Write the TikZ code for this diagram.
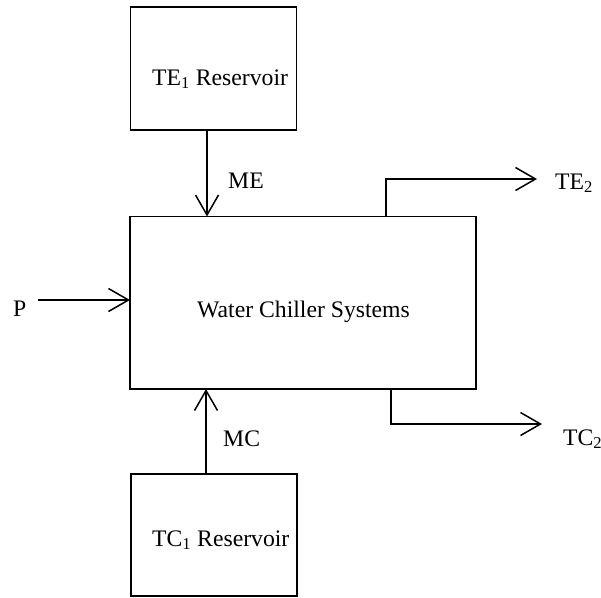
\documentclass[tikz,border=0pt]{standalone}
\usepackage{fontspec}
\setmainfont{Liberation Serif}
\usetikzlibrary{arrows.meta}
\begin{document}
\begin{tikzpicture}[x=1pt,y=-1pt,
  font=\fontsize{23.7}{28}\selectfont,
  boxnode/.style={draw, line width=1.5pt, inner sep=0pt, outer sep=0pt},
  lbl/.style={inner sep=0pt, anchor=base west},
  arr/.style={line width=1.5pt, -{Straight Barb[length=20pt,width=23pt,line width=1.5pt]}},
  flow/.style={line width=1.5pt}]
\useasboundingbox (0,0) rectangle (601,597);
\node[boxnode, minimum width=166pt, minimum height=123pt] (top) at (213.5,68.5) {};
\node[boxnode, minimum width=346pt, minimum height=172.5pt] (main) at (303,302.75) {};
\node[boxnode, minimum width=166pt, minimum height=122pt] (bot) at (214,535) {};
\node[lbl] (toplbl) at (152,85) {TE\textsubscript{1} Reservoir};
\node[lbl] (botlbl) at (152,546) {TC\textsubscript{1} Reservoir};
\node[lbl] (mainlbl) at (197,317) {Water Chiller Systems};
\node[lbl] (me) at (228,188) {ME};
\node[lbl] (mc) at (223,446) {MC};
\node[lbl] (p) at (13,316) {P};
\node[lbl] (te2) at (555,189) {TE\textsubscript{2}};
\node[lbl] (tc2) at (563,445) {TC\textsubscript{2}};
\coordinate (mex) at (207,0);
\coordinate (mcx) at (206,0);
\coordinate (ptail) at (38,300);
\coordinate (te2x) at (386,0);
\coordinate (te2tip) at (537,179);
\coordinate (tc2x) at (391,0);
\coordinate (tc2tip) at (542,424);
\draw[arr] (top.south -| mex) -- (main.north -| mex);
\draw[arr] (bot.north -| mcx) -- (main.south -| mcx);
\draw[arr] (ptail) -- (ptail -| main.west);
\draw[arr] (main.north -| te2x) -- (te2x |- te2tip) -- (te2tip);
\draw[arr] (main.south -| tc2x) -- (tc2x |- tc2tip) -- (tc2tip);
\end{tikzpicture}
\end{document}
